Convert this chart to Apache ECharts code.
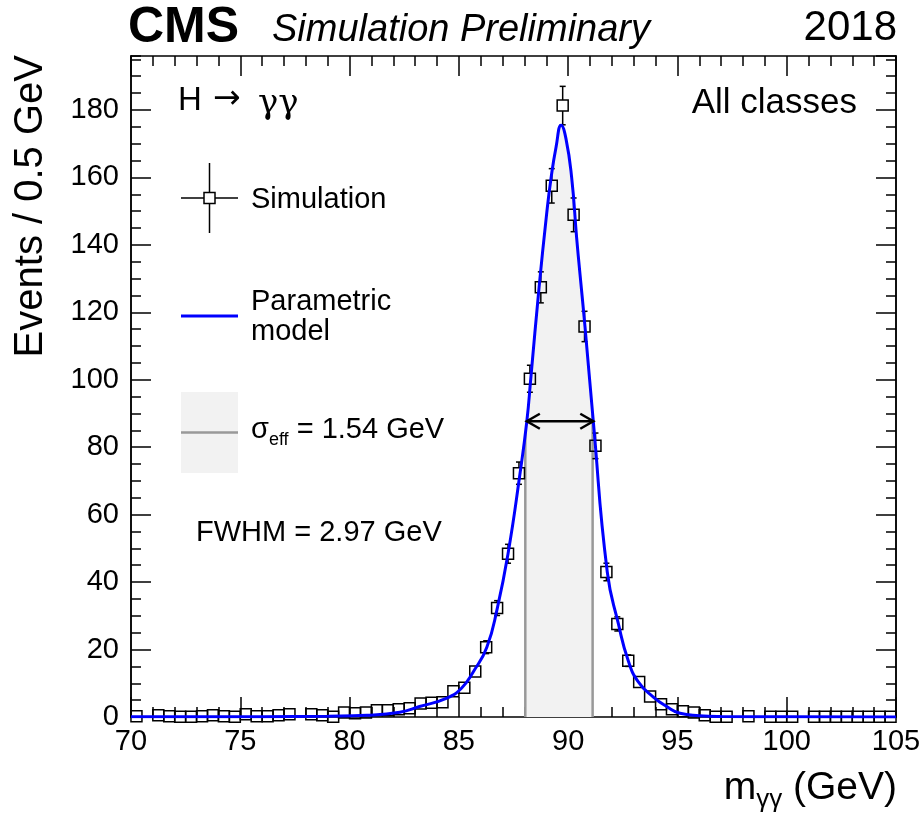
<!DOCTYPE html>
<html><head><meta charset="utf-8">
<script src="https://cdn.jsdelivr.net/npm/echarts@6/dist/echarts.min.js"></script>
<style>html,body{margin:0;padding:0;background:#fff}#c{width:923px;height:813px}</style>
</head><body><div id="c"></div>
<script>
// ---- data ----
const binCenters = [70.25,70.75,71.25,71.75,72.25,72.75,73.25,73.75,74.25,74.75,
  75.25,75.75,76.25,76.75,77.25,77.75,78.25,78.75,79.25,79.75,
  80.25,80.75,81.25,81.75,82.25,82.75,83.25,83.75,84.25,84.75,
  85.25,85.75,86.25,86.75,87.25,87.75,88.25,88.75,89.25,89.75,
  90.25,90.75,91.25,91.75,92.25,92.75,93.25,93.75,94.25,94.75,
  95.25,95.75,96.25,96.75,97.25,97.75,98.25,98.75,99.25,99.75,
  100.25,100.75,101.25,101.75,102.25,102.75,103.25,103.75,104.25,104.75];
const events = [0.2,null,0.5,0.2,0.05,0.05,0.2,0.5,0.2,0.05,
  0.8,0.2,0.2,0.5,0.8,null,0.8,0.5,0.05,1.3,
  1.1,1.3,2.0,2.0,2.3,2.6,4.0,4.2,4.4,7.6,
  8.7,13.5,20.7,32.3,48.4,72.3,100.3,127.4,157.5,181.3,
  148.9,115.8,80.4,43.0,27.6,16.7,10.4,6.1,3.8,2.3,
  1.7,1.3,0.5,0.1,0.1,null,0.2,null,0.1,0.1,
  0.1,null,0.1,0.1,0.1,0.1,0.1,0.1,0.1,0.1];
const eventErrors = [0.3,null,0.3,0.3,0.3,0.3,0.3,0.3,0.3,0.3,
  0.3,0.3,0.3,0.3,0.3,null,0.3,0.3,0.3,0.5,
  0.5,0.5,0.6,0.6,0.6,0.7,0.8,0.9,0.9,1.2,
  1.2,1.5,1.9,2.2,2.8,3.3,4.0,4.6,5.1,5.7,
  5.0,4.5,3.8,2.6,2.1,1.7,1.3,1.0,0.8,0.6,
  0.5,0.5,0.3,0.3,0.3,null,0.3,null,0.3,0.3,
  0.3,null,0.3,0.3,0.3,0.3,0.3,0.3,0.3,0.3];
// parametric model, sampled by eye along the drawn curve
const curveMass = [70,76,79,80.8,82.3,83.2,84.45,85.13,85.67,86.28,86.76,87.25,87.8,88.11,88.29,88.67,
  89.02,89.22,89.45,89.68,89.9,90.16,90.39,90.54,90.77,91.15,91.79,92.3,92.75,93.21,93.9,94.51,95.12,96,97,100,105];
const curveValues = [0.05,0.1,0.25,0.5,1.4,3.1,5.6,8.6,13.5,20.7,32.3,48.4,72.3,87.7,100.3,127.4,
  149.4,159.9,169.1,175.5,171.5,160.0,142.0,131.5,115.8,87.7,43.0,27.6,16.7,10.4,5.9,3.1,1.1,0.4,0.15,0.05,0.03];
const sigmaEffEdges = [88.04, 91.12];
const sigmaEdgeValues = [84.2, 89.9];
const fwhmEdges = [88.11, 91.15];
const halfMaximum = 87.7;
const xTickValues = [70,75,80,85,90,95,100,105];
const yTickValues = [0,20,40,60,80,100,120,140,160,180];
const yMax = 196;

// ---- build ----
const FONT = "'Liberation Sans', Arial, Helvetica, sans-serif";
const chart = echarts.init(document.getElementById('c'), null, {renderer:'canvas'});
const G = {left:131, right:27, top:56, bottom:96};
const SMOOTH = 0.5;

const curveData = curveMass.map((m,i)=>[m, curveValues[i]]);
const bandData = [[sigmaEffEdges[0], sigmaEdgeValues[0]]]
  .concat(curveData.filter(p=>p[0]>sigmaEffEdges[0] && p[0]<sigmaEffEdges[1]))
  .concat([[sigmaEffEdges[1], sigmaEdgeValues[1]]]);
const pointData = [];
binCenters.forEach((m,i)=>{ if(events[i]!==null) pointData.push([m, events[i], eventErrors[i]]); });

const mctx = document.createElement('canvas').getContext('2d');
function tw(text, font){ mctx.font = font; return mctx.measureText(text).width; }
function f(size, extra, fam){ return (extra?extra+' ':'') + size + 'px ' + (fam||FONT); }

const axisLineStyle = {color:'#000', width:1.5};
function xAx(pos, labels){
  return {type:'value', min:70, max:105, interval:5, position:pos,
    axisLine:{show:true, onZero:false, lineStyle:axisLineStyle},
    axisTick:{show:true, inside:true, length:20, lineStyle:{color:'#000', width:1.5}},
    minorTick:{show:true, splitNumber:5, length:10, lineStyle:{color:'#000', width:1.5}},
    splitLine:{show:false}, minorSplitLine:{show:false},
    axisLabel:{show:labels, fontSize:29, fontFamily:FONT, color:'#000', margin:10,
      formatter:v=> xTickValues.indexOf(v)>=0 ? String(v) : ''}};
}
function yAx(pos, interval, len, labels){
  return {type:'value', min:0, max:yMax, interval:interval, position:pos,
    axisLine:{show:true, onZero:false, lineStyle:axisLineStyle},
    axisTick:{show:true, inside:true, length:len, lineStyle:{color:'#000', width:1.5}},
    splitLine:{show:false},
    axisLabel:{show:labels, fontSize:29, fontFamily:FONT, color:'#000', margin:12, showMaxLabel:false,
      formatter:v=> yTickValues.indexOf(v)>=0 ? String(v) : ''}};
}

function parts(list, x0, yMid, alignRight){
  const ws = list.map(p=>tw(p[0], p[1]));
  let x = alignRight ? x0 - ws.reduce((a,b)=>a+b,0) : x0;
  return list.map((p,i)=>{
    const el = {type:'text', x:x, y:yMid+(p[2]||0), style:{text:p[0], font:p[1], fill:'#000', align:'left', verticalAlign:'middle'}};
    x += ws[i]; return el;
  });
}
const xTitleEls = parts([['m', f(39)], ['\u03b3\u03b3', f(26), 12], [' (GeV)', f(39)]], 897, 788, true);
const sigmaEls = parts([['\u03c3', f(29)], ['eff', f(18), 10], [' = 1.54 GeV', f(29)]], 251, 430, false);
const hEls = [
  {type:'text', x:178, y:101, style:{text:'H', font:f(33), fill:'#000', align:'left', verticalAlign:'middle'}},
  {type:'text', x:213, y:99, style:{text:'\u2192', font:f(33,'', "'DejaVu Sans', sans-serif"), fill:'#000', align:'left', verticalAlign:'middle'}},
  {type:'text', x:258, y:104, style:{text:'\u03b3\u03b3', font:f(34,'', "'DejaVu Serif', serif"), fill:'#000', align:'left', verticalAlign:'middle'}}
];

const graphics = [
  {type:'text', x:128, y:28, style:{text:'CMS', font:f(50,'bold'), fill:'#000', align:'left', verticalAlign:'middle'}},
  {type:'text', x:272, y:30, style:{text:'Simulation Preliminary', font:f(38,'italic'), fill:'#000', align:'left', verticalAlign:'middle'}},
  {type:'text', x:897, y:28, style:{text:'2018', font:f(42), fill:'#000', align:'right', verticalAlign:'middle'}},
  {type:'text', x:31, y:55, rotation:Math.PI/2, style:{text:'Events / 0.5 GeV', font:f(40), fill:'#000', align:'right', verticalAlign:'middle'}},
  {type:'text', x:857, y:103, style:{text:'All classes', font:f(35), fill:'#000', align:'right', verticalAlign:'middle'}},
  // legend: simulation
  {type:'line', shape:{x1:209.5, y1:163, x2:209.5, y2:233}, style:{stroke:'#000', lineWidth:1.5}},
  {type:'line', shape:{x1:181, y1:198, x2:238, y2:198}, style:{stroke:'#000', lineWidth:1.5}},
  {type:'rect', shape:{x:204, y:192.5, width:11, height:11}, style:{fill:'#fff', stroke:'#000', lineWidth:1.5}, z:2},
  {type:'text', x:251, y:200, style:{text:'Simulation', font:f(29), fill:'#000', align:'left', verticalAlign:'middle'}},
  // legend: model
  {type:'line', shape:{x1:181, y1:316, x2:238, y2:316}, style:{stroke:'#0000ff', lineWidth:3}},
  {type:'text', x:251, y:302, style:{text:'Parametric', font:f(29), fill:'#000', align:'left', verticalAlign:'middle'}},
  {type:'text', x:251, y:332, style:{text:'model', font:f(29), fill:'#000', align:'left', verticalAlign:'middle'}},
  // legend: sigma eff
  {type:'rect', shape:{x:181, y:392, width:57, height:81}, style:{fill:'#f2f2f2'}},
  {type:'line', shape:{x1:181, y1:432.5, x2:238, y2:432.5}, style:{stroke:'#999', lineWidth:2.5}},
  {type:'text', x:196, y:533, style:{text:'FWHM = 2.97 GeV', font:f(29), fill:'#000', align:'left', verticalAlign:'middle'}}
].concat(sigmaEls, xTitleEls, hEls);

const option = {
  animation:false,
  backgroundColor:'#fff',
  grid:{left:G.left, right:G.right, top:G.top, bottom:G.bottom, containLabel:false, outerBoundsMode:'none'},
  xAxis:[xAx('bottom', true), xAx('top', false)],
  yAxis:[yAx('left',20,20,true), yAx('left',5,10,false), yAx('right',20,20,false), yAx('right',5,10,false)],
  graphic:graphics,
  series:[
    {type:'line', name:'band', data:bandData, smooth:SMOOTH, showSymbol:false, silent:true, z:1,
      lineStyle:{opacity:0, width:0}, areaStyle:{color:'#f2f2f2', opacity:1}},
    {type:'line', data:[[sigmaEffEdges[0],0],[sigmaEffEdges[0],sigmaEdgeValues[0]]], showSymbol:false, z:2,
      lineStyle:{color:'#999', width:2.5}},
    {type:'line', data:[[sigmaEffEdges[1],0],[sigmaEffEdges[1],sigmaEdgeValues[1]]], showSymbol:false, z:2,
      lineStyle:{color:'#999', width:2.5}},
    {type:'custom', name:'Simulation', data:pointData, clip:false, z:4, encode:{x:0, y:1},
      renderItem:function(params, api){
        const x=api.value(0), y=api.value(1), e=api.value(2);
        const c=api.coord([x,y]), t=api.coord([x,y+e]), b=api.coord([x,Math.max(0,y-e)]);
        const h=5.5, ls={stroke:'#000', lineWidth:1.5}, ch=[];
        if (t[1] < c[1]-h) {
          ch.push({type:'line', shape:{x1:c[0],y1:c[1]-h,x2:c[0],y2:t[1]}, style:ls});
          ch.push({type:'line', shape:{x1:c[0]-3,y1:t[1],x2:c[0]+3,y2:t[1]}, style:ls});
        }
        if (b[1] > c[1]+h) {
          ch.push({type:'line', shape:{x1:c[0],y1:c[1]+h,x2:c[0],y2:b[1]}, style:ls});
          ch.push({type:'line', shape:{x1:c[0]-3,y1:b[1],x2:c[0]+3,y2:b[1]}, style:ls});
        }
        ch.push({type:'rect', shape:{x:c[0]-h,y:c[1]-h,width:2*h,height:2*h}, style:{fill:'none', stroke:'#000', lineWidth:1.5}});
        return {type:'group', children:ch};
      }},
    {type:'line', name:'Parametric model', data:curveData, smooth:SMOOTH, showSymbol:false, z:6, clip:true,
      lineStyle:{color:'#0000ff', width:3}},
    {type:'custom', name:'FWHM', data:[[fwhmEdges[0], fwhmEdges[1], halfMaximum]], z:7, encode:{x:[0,1], y:2},
      renderItem:function(params, api){
        const p1=api.coord([api.value(0), api.value(2)]), p2=api.coord([api.value(1), api.value(2)]);
        const s={stroke:'#000', lineWidth:2.5, fill:'none'};
        return {type:'group', children:[
          {type:'line', shape:{x1:p1[0],y1:p1[1],x2:p2[0],y2:p2[1]}, style:s},
          {type:'polyline', shape:{points:[[p1[0]+13,p1[1]-7.5],[p1[0],p1[1]],[p1[0]+13,p1[1]+7.5]]}, style:s},
          {type:'polyline', shape:{points:[[p2[0]-13,p2[1]-7.5],[p2[0],p2[1]],[p2[0]-13,p2[1]+7.5]]}, style:s}
        ]};
      }}
  ]
};
chart.setOption(option);
</script></body></html>
